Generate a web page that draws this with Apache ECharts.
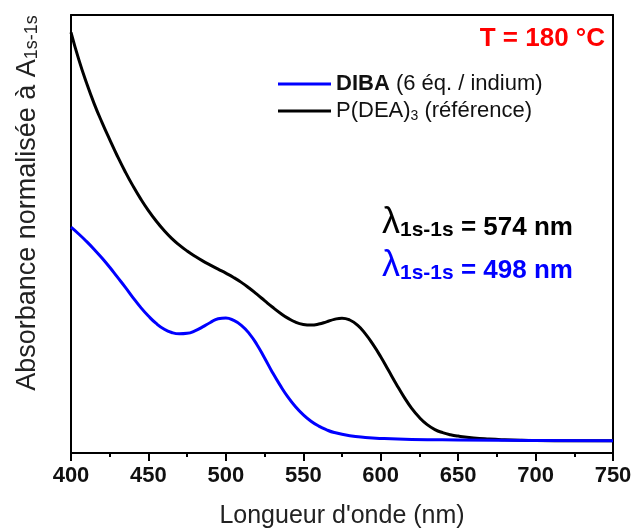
<!DOCTYPE html>
<html><head><meta charset="utf-8">
<script src="https://cdn.jsdelivr.net/npm/echarts@6/dist/echarts.min.js"></script>
<style>html,body{margin:0;padding:0;background:#fff}#c{width:633px;height:530px}</style>
</head><body><div id="c"></div>
<script>
// Data
const xTicks = [400, 450, 500, 550, 600, 650, 700, 750];
const wlRef = [400,405,410,415,420,425,430,435,440,445,450,455,460,465,470,475,480,485,490,495,500,505,510,515,520,525,530,535,540,545,550,555,560,565,570,575,580,585,590,595,600,605,610,615,620,625,630,635,640,645,650,660,670,680,690,700,725,750];
const absRef = [3.31,3.09,2.90,2.73,2.58,2.44,2.305,2.18,2.065,1.96,1.865,1.78,1.705,1.64,1.585,1.537,1.495,1.457,1.423,1.39,1.358,1.323,1.283,1.237,1.187,1.135,1.083,1.035,0.993,0.96,0.942,0.937,0.945,0.963,0.983,0.993,0.978,0.937,0.868,0.78,0.68,0.57,0.46,0.355,0.262,0.187,0.13,0.09,0.065,0.048,0.037,0.022,0.013,0.007,0.003,0.001,0.0,0.0];
const wlDiba = [400,405,410,415,420,425,430,435,440,445,450,455,460,465,470,475,480,485,490,495,500,505,510,515,520,525,530,535,540,545,550,555,560,565,570,580,590,600,620,650,700,750];
const absDiba = [1.73,1.675,1.615,1.55,1.48,1.405,1.325,1.245,1.16,1.08,1.01,0.95,0.905,0.877,0.866,0.87,0.89,0.922,0.958,0.988,0.995,0.975,0.935,0.87,0.78,0.67,0.555,0.45,0.355,0.275,0.21,0.158,0.118,0.088,0.066,0.04,0.026,0.018,0.01,0.006,0.002,0.0];
const seriesNames = ['DIBA', 'P(DEA)3'];

const pair = (xs, ys) => xs.map((x, i) => [x, ys[i]]);
const F = 'Arial, "Liberation Sans", sans-serif';

const chart = echarts.init(document.getElementById('c'));
chart.setOption({
  animation: false,
  grid: {left: 71, right: 20, top: 15, bottom: 77, containLabel: false, outerBoundsMode: 'none'},
  xAxis: [{
    type: 'value', min: 400, max: 750, interval: 50,
    axisLine: {show: true, onZero: false, lineStyle: {color: '#000', width: 2}},
    axisTick: {show: true, inside: false, length: 8, lineStyle: {color: '#000', width: 2}},
    minorTick: {show: true, splitNumber: 2, length: 4, lineStyle: {color: '#000', width: 2}},
    splitLine: {show: false},
    axisLabel: {color: '#111', fontFamily: F, fontWeight: 'bold', fontSize: 22, margin: 12,
      formatter: v => xTicks.includes(v) ? String(v) : ''},
    name: "Longueur d'onde (nm)", nameLocation: 'middle', nameGap: 51,
    nameTextStyle: {color: '#222', fontFamily: F, fontSize: 25}
  }, {
    type: 'value', position: 'top', min: 400, max: 750,
    axisLine: {show: true, onZero: false, lineStyle: {color: '#000', width: 2}},
    axisTick: {show: false}, axisLabel: {show: false}, splitLine: {show: false}
  }],
  yAxis: [{
    type: 'value', min: -0.1, max: 3.45,
    axisLine: {show: true, onZero: false, lineStyle: {color: '#000', width: 2}},
    axisTick: {show: false}, axisLabel: {show: false}, splitLine: {show: false}
  }, {
    type: 'value', position: 'right', min: -0.1, max: 3.45,
    axisLine: {show: true, onZero: false, lineStyle: {color: '#000', width: 2}},
    axisTick: {show: false}, axisLabel: {show: false}, splitLine: {show: false}
  }],
  legend: {
    orient: 'vertical', left: 273, top: 67, itemGap: 3,
    itemWidth: 53, itemHeight: 3, icon: 'rect',
    data: seriesNames,
    formatter: n => n === 'DIBA' ? '{b|DIBA} {r|(6 éq. / indium)}' : '{r|P(DEA)}{s|3}{r| (référence)}',
    textStyle: {color: '#111', fontFamily: F, fontSize: 22, lineHeight: 24,
      rich: {b: {fontWeight: 'bold', fontSize: 22, fontFamily: F, color: '#111', lineHeight: 24},
             r: {fontSize: 22, fontFamily: F, color: '#111', lineHeight: 24},
             s: {fontSize: 14, fontFamily: F, color: '#111', verticalAlign: 'bottom', lineHeight: 24, padding: [10,0,0,0]}}}
  },
  series: [{
    name: seriesNames[0], type: 'line', data: pair(wlDiba, absDiba),
    smooth: 0.5, showSymbol: false, symbol: 'none',
    lineStyle: {color: '#0000ff', width: 3}, itemStyle: {color: '#0000ff'}, z: 3
  }, {
    name: seriesNames[1], type: 'line', data: pair(wlRef, absRef),
    smooth: 0.5, showSymbol: false, symbol: 'none',
    lineStyle: {color: '#000', width: 3}, itemStyle: {color: '#000'}, z: 2
  }],
  graphic: [
    {type: 'text', x: 26, y: 203, rotation: Math.PI / 2, style: {
      text: '{m|Absorbance normalisée à A}{s|1s-1s}', align: 'center', verticalAlign: 'middle',
      rich: {m: {fontFamily: F, fontSize: 27, fill: '#222', verticalAlign: 'bottom', lineHeight: 30},
             s: {fontFamily: F, fontSize: 18, fill: '#222', verticalAlign: 'bottom', lineHeight: 24}}}},
    {type: 'text', x: 605, y: 39, style: {text: 'T = 180 °C', align: 'right', verticalAlign: 'middle',
      fill: '#ff0000', fontFamily: F, fontWeight: 'bold', fontSize: 26}},
    {type: 'text', x: 382, y: 223, style: {
      text: '{l|λ}{s|1s-1s}{m| = 574 nm}', align: 'left', verticalAlign: 'middle',
      rich: {l: {fontFamily: F, fontSize: 36, fill: '#000', verticalAlign: 'bottom', lineHeight: 36},
             s: {fontFamily: F, fontWeight: 'bold', fontSize: 21, fill: '#000', verticalAlign: 'bottom', lineHeight: 26},
             m: {fontFamily: F, fontWeight: 'bold', fontSize: 26, fill: '#000', verticalAlign: 'bottom', lineHeight: 33}}}},
    {type: 'text', x: 382, y: 266, style: {
      text: '{l|λ}{s|1s-1s}{m| = 498 nm}', align: 'left', verticalAlign: 'middle',
      rich: {l: {fontFamily: F, fontSize: 36, fill: '#0000ff', verticalAlign: 'bottom', lineHeight: 36},
             s: {fontFamily: F, fontWeight: 'bold', fontSize: 21, fill: '#0000ff', verticalAlign: 'bottom', lineHeight: 26},
             m: {fontFamily: F, fontWeight: 'bold', fontSize: 26, fill: '#0000ff', verticalAlign: 'bottom', lineHeight: 33}}}}
  ]
});
</script></body></html>
